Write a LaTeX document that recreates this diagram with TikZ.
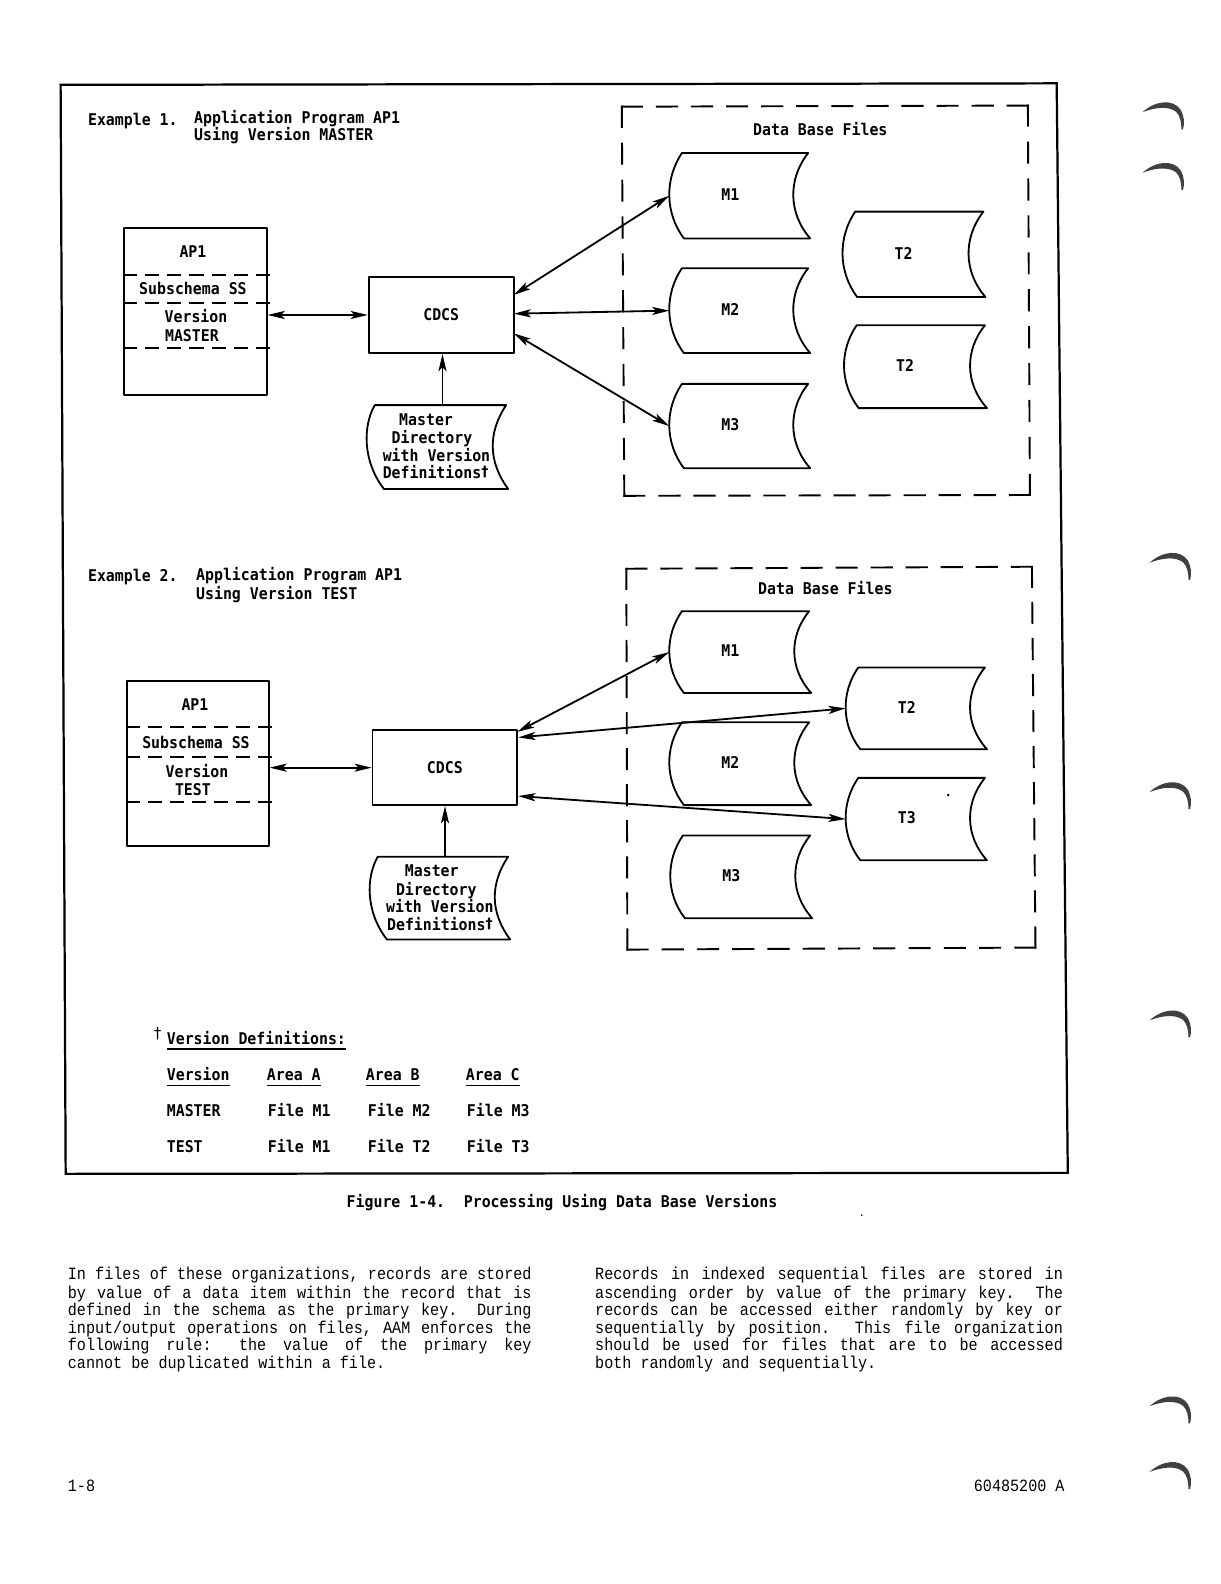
\documentclass[tikz,border=0pt]{standalone}
\usepackage{fontspec}
\usetikzlibrary{arrows.meta}
\newfontfamily\figf{DejaVu Sans Mono}[FakeStretch=0.92]
\newfontfamily\bodyf{Liberation Mono}[FakeStretch=0.88]
\newfontfamily\dagf{DejaVu Sans}
\newcommand\figfs{\figf\bfseries\fontsize{16}{19}\selectfont}
\newcommand\bodyfs{\bodyf\fontsize{17}{20}\selectfont}
\newcommand\jline[2]{\makebox[#1][s]{\spaceskip=\fontdimen2\font plus 1fil\relax #2}}
\newcommand\dg{\raisebox{2pt}{\dagf\fontsize{14}{14}\selectfont †}}
\tikzset{
  fig/.style={line width=1.8pt, line join=round},
  txt/.style={font=\figfs, inner sep=0pt},
  btxt/.style={font=\bodyfs, inner sep=0pt, anchor=base west},
  arr/.style={fig, {Stealth[length=17pt,width=8pt,inset=4pt]}-{Stealth[length=17pt,width=8pt,inset=4pt]}},
  uarr/.style={fig, -{Stealth[length=17pt,width=8pt,inset=4pt]}},
  uline/.style={line width=1.8pt},
  ring/.style={black!75}
}
% dashed segment with dashes at both ends
\newcommand\dashside[6]{%
  \pgfmathsetmacro\dL{veclen(#3-#1,#4-#2)}%
  \pgfmathsetmacro\dN{max(2,round((\dL+#6)/(#5+#6)))}%
  \pgfmathsetmacro\dG{(\dL-\dN*#5)/(\dN-1)}%
  \draw[line width=1.9pt, line cap=rect, dash pattern=on #5pt off \dG pt] (#1,#2) -- (#3,#4);
}
\newcommand\dbfile[6]{%
  \draw[fig] (#2,#3) -- (#4,#3) .. controls (#4-20,{#3+0.3*(#5-#3)}) and (#4-20,{#3+0.7*(#5-#3)}) .. (#4+2,#5) -- (#2+2,#5) .. controls (#2-17,{#3+0.7*(#5-#3)}) and (#2-17,{#3+0.3*(#5-#3)}) .. cycle;
  \coordinate (#1w) at (#2-12.5,{(#3+#5)/2});
  \node[txt] (#1) at (#2+48,{(#3+#5)/2-1}) {#6};
}
\newcommand\mdir[5]{%
  \draw[fig] (#2,#3) -- (#4,#3) .. controls (#4-18,{#3+0.33*(#5-#3)}) and (#4-18,{#3+0.67*(#5-#3)}) .. (#4+2,#5) -- (#2+9,#5) .. controls (#2-12,{#3+0.67*(#5-#3)}) and (#2-12,{#3+0.25*(#5-#3)}) .. cycle;
  \coordinate (#1) at ({(#2+#4)/2+2},#3);
}
\newcommand\ringmark[2]{%
  \fill[ring] (#1,#2+10) .. controls (#1+12,#2-1) and (#1+30,#2-4) .. (#1+38,#2+8) .. controls (#1+41,#2+14) and (#1+42,#2+21) .. (#1+40,#2+27)
     -- (#1+38.5,#2+27) .. controls (#1+38.5,#2+20) and (#1+37,#2+13) .. (#1+33,#2+9.5) .. controls (#1+25,#2+3.5) and (#1+12,#2+5.5) .. cycle;
}
\begin{document}
\begin{tikzpicture}[x=1pt,y=-1pt]
\useasboundingbox (0,0) rectangle (1208,1568);
\fill[white] (0,0) rectangle (1208,1568);

% outer frame
\draw[line width=2.2pt, line join=miter] (60,84) -- (1046,82.5) -- (1057,1161) -- (65,1162) -- cycle;

%%%%%%%%%%%%%%%% Example 1
\node[txt,anchor=base west] (e1a) at (87,124) {Example 1.};
\node[txt,anchor=base west] (e1b) at (192,122) {Application Program AP1};
\node[txt,anchor=base west] (e1c) at (192,139.5) {Using Version MASTER};

\node[fig,draw,minimum width=141pt,minimum height=165pt,inner sep=0pt] (ap1) at (193.5,308.5) {};
\dashside{123}{272}{266}{272}{12}{9.5}
\dashside{123}{300}{266}{300}{12}{9.5}
\dashside{123}{344.6}{266}{344.6}{12}{9.5}
\node[txt,anchor=base] (ap1a) at (191,255) {AP1};
\node[txt,anchor=base] (ap1b) at (191,292) {Subschema SS};
\node[txt,anchor=base] (ap1c) at (194,319.5) {Version};
\node[txt,anchor=base] (ap1d) at (190,337.7) {MASTER};

\node[fig,draw,txt,minimum width=143.5pt,minimum height=75.6pt] (cdcs1) at (436.75,311.8) {CDCS};
\draw[arr] (ap1.east |- cdcs1.west) -- (cdcs1.west);

\mdir{md1}{371}{401}{501}{484}
\node[txt,anchor=base west] (md1a) at (395,421) {Master};
\node[txt,anchor=base west] (md1b) at (387.5,439) {Directory};
\node[txt,anchor=base west] (md1c) at (378.7,456.6) {with Version};
\node[txt,anchor=base west] (md1d) at (378.7,474) {Definitions\dg};
\draw[uarr] (md1) -- (md1 |- cdcs1.south);

% data base files 1
\dashside{615.5}{105.6}{1017.5}{104.5}{20}{16}
\dashside{1017.5}{104.5}{1019.5}{490}{20}{16}
\dashside{1019.5}{490}{618}{490.8}{20}{16}
\dashside{618}{490.8}{615.5}{105.6}{20}{16}
\node[txt,anchor=base] (dbf1) at (812,134) {Data Base Files};

\dbfile{m1a}{675}{151.5}{800}{236}{M1}
\dbfile{m2a}{675}{265.5}{800}{349.5}{M2}
\dbfile{m3a}{675}{380}{800}{463.5}{M3}
\dbfile{t2a}{846.5}{209.5}{973.5}{294}{T2}
\dbfile{t2b}{848}{322}{975}{404}{T2}

\coordinate (c1a) at (508.5,292);
\coordinate (c1b) at (508.5,310.5);
\coordinate (c1c) at (508.5,330);
\draw[arr] (c1a) -- (m1aw);
\draw[arr] (c1b) -- (m2aw);
\draw[arr] (c1c) -- (m3aw);

%%%%%%%%%%%%%%%% Example 2
\node[txt,anchor=base west] (e2a) at (87,576) {Example 2.};
\node[txt,anchor=base west] (e2b) at (194,575) {Application Program AP1};
\node[txt,anchor=base west] (e2c) at (194,593) {Using Version TEST};

\node[fig,draw,minimum width=140.5pt,minimum height=163.5pt,inner sep=0pt] (ap2) at (195.7,755.8) {};
\dashside{125.5}{720}{268}{720}{12}{9.5}
\dashside{125.5}{749}{268}{749}{12}{9.5}
\dashside{125.5}{794}{268}{794}{12}{9.5}
\node[txt,anchor=base] (ap2a) at (193,703) {AP1};
\node[txt,anchor=base] (ap2b) at (194,740.5) {Subschema SS};
\node[txt,anchor=base] (ap2c) at (195,769.5) {Version};
\node[txt,anchor=base] (ap2d) at (191,787) {TEST};

\node[fig,draw,txt,minimum width=143.2pt,minimum height=74.3pt] (cdcs2) at (440.4,759.9) {CDCS};
\draw[arr] (ap2.east |- cdcs2.west) -- (cdcs2.west);

\mdir{md2}{374}{848}{503}{930}
\node[txt,anchor=base west] (md2a) at (400.6,868) {Master};
\node[txt,anchor=base west] (md2b) at (391.8,886) {Directory};
\node[txt,anchor=base west] (md2c) at (382,903) {with Version};
\node[txt,anchor=base west] (md2d) at (383,921) {Definitions\dg};
\draw[uarr] (md2) -- (md2 |- cdcs2.south);

% data base files 2
\dashside{620}{563}{1021.5}{561}{20}{16}
\dashside{1021.5}{561}{1025}{938}{20}{16}
\dashside{1025}{938}{621}{940}{20}{16}
\dashside{621}{940}{620}{563}{20}{16}
\node[txt,anchor=base] (dbf2) at (817,588) {Data Base Files};

\dbfile{m1b}{675}{605}{801}{686}{M1}
\dbfile{m2b}{675}{715}{801}{797}{M2}
\dbfile{m3b}{676}{827}{802}{909}{M3}
\dbfile{t2c}{849.6}{660.7}{975}{741.7}{T2}
\dbfile{t3c}{849.6}{770}{975}{851.6}{T3}
\fill (938.6,787) circle (1.4pt);

\coordinate (c2a) at (512,724.5);
\coordinate (c2b) at (513,730);
\coordinate (c2c) at (513,788);
\draw[arr] (c2a) -- (m1bw);
\draw[arr] (c2b) -- (t2cw);
\draw[arr] (c2c) -- (t3cw);

%%%%%%%%%%%%%%%% version definitions
\node[anchor=base west,inner sep=0pt,font=\dagf\fontsize{15}{15}\selectfont] (vdag) at (152,1028) {†};
\node[txt,anchor=base west] (vdef) at (165,1034) {Version Definitions:};
\draw[uline] ([yshift=-4.5pt]vdef.base west) -- ([yshift=-4.5pt]vdef.base east);

\node[txt,anchor=base west] (h1) at (165,1070) {Version};
\node[txt,anchor=base west] (h2) at (264,1070) {Area A};
\node[txt,anchor=base west] (h3) at (362,1070) {Area B};
\node[txt,anchor=base west] (h4) at (461,1070) {Area C};
\foreach \h in {h1,h2,h3,h4}{
  \draw[uline] ([yshift=-4.5pt]\h.base west) -- ([yshift=-4.5pt]\h.base east);
}
\node[txt,anchor=base west] (r1a) at (165,1105) {MASTER};
\node[txt,anchor=base west] (r1b) at (265,1105) {File M1};
\node[txt,anchor=base west] (r1c) at (364,1105) {File M2};
\node[txt,anchor=base west] (r1d) at (462,1105) {File M3};
\node[txt,anchor=base west] (r2a) at (165,1141) {TEST};
\node[txt,anchor=base west] (r2b) at (265,1141) {File M1};
\node[txt,anchor=base west] (r2c) at (364,1141) {File T2};
\node[txt,anchor=base west] (r2d) at (462,1141) {File T3};

% caption
\node[txt,anchor=base west] (cap1) at (343,1195) {Figure 1-4.};
\node[txt,anchor=base west] (cap2) at (459,1195) {Processing Using Data Base Versions};
\fill (853,1203) circle (0.9pt);

% body text
\node[btxt] (l1) at (67,1267) {\jline{459pt}{In files of these organizations, records are stored}};
\node[btxt] (l2) at (67,1285) {\jline{459pt}{by value of a data item within the record that is}};
\node[btxt] (l3) at (67,1302) {\jline{459pt}{defined in the schema as the primary key. During}};
\node[btxt] (l4) at (67,1320) {\jline{459pt}{input/output operations on files, AAM enforces the}};
\node[btxt] (l5) at (67,1337) {\jline{459pt}{following rule: the value of the primary key}};
\node[btxt] (l6) at (67,1355) {cannot be duplicated within a file.};

\node[btxt] (q1) at (589,1267) {\jline{463pt}{Records in indexed sequential files are stored in}};
\node[btxt] (q2) at (589,1285) {\jline{463pt}{ascending order by value of the primary key. The}};
\node[btxt] (q3) at (589,1302) {\jline{463pt}{records can be accessed either randomly by key or}};
\node[btxt] (q4) at (589,1320) {\jline{463pt}{sequentially by position. This file organization}};
\node[btxt] (q5) at (589,1337) {\jline{463pt}{should be used for files that are to be accessed}};
\node[btxt] (q6) at (589,1355) {both randomly and sequentially.};

\node[btxt] (pg) at (67,1476) {1-8};
\node[font=\bodyfs,inner sep=0pt,anchor=base east] (doc) at (1054,1476) {60485200 A};

% binder ring marks
\ringmark{1131}{101}
\ringmark{1131}{161}
\ringmark{1138}{547}
\ringmark{1138}{774}
\ringmark{1138}{1000}
\ringmark{1138}{1382}
\ringmark{1138}{1447}
\end{tikzpicture}
\end{document}
